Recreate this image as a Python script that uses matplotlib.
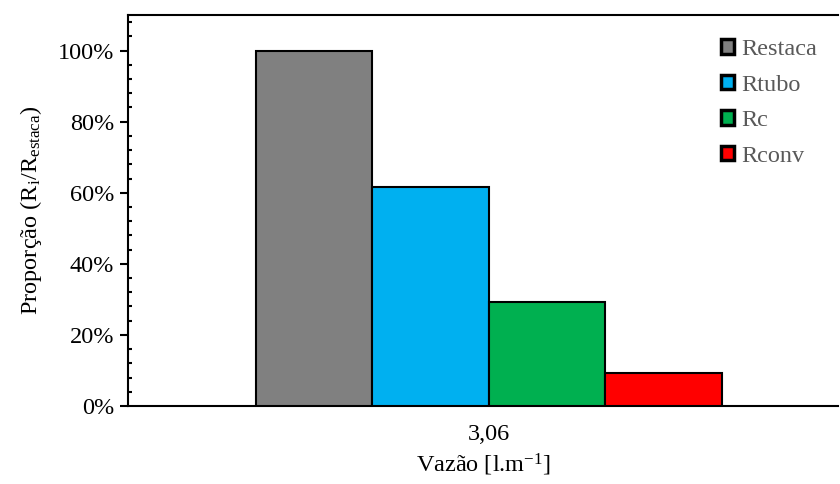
import matplotlib
matplotlib.use("Agg")
import matplotlib.pyplot as plt
from matplotlib.ticker import MultipleLocator, FuncFormatter

plt.rcParams['font.family'] = ['Liberation Serif', 'DejaVu Serif']
plt.rcParams['mathtext.fontset'] = 'custom'
plt.rcParams['mathtext.rm'] = 'Liberation Serif'
plt.rcParams['mathtext.it'] = 'Liberation Serif:italic'

category = "3,06"
series = ["Restaca", "Rtubo", "Rc", "Rconv"]
values = [1.00, 0.616, 0.292, 0.092]
colors = ["#808080", "#00B0F0", "#00B050", "#FF0000"]

FS = 17.5
fig = plt.figure(figsize=(8.4, 4.84), dpi=100)
W, H = 840, 484
ax = fig.add_axes([128 / W, 1 - 406 / H, (838 - 128) / W, (406 - 15) / H])

n = len(series)
for i, (s, v, c) in enumerate(zip(series, values, colors)):
    x = i - (n - 1) / 2
    ax.bar(x, v, width=1.0, color=c, edgecolor="black", linewidth=1.5, label=s, zorder=3)

ax.set_xlim(-3.10, 3.0)
ax.set_ylim(0, 1.10)
ax.set_xticks([0])
ax.set_xticklabels([category])
ax.tick_params(axis='x', length=0, pad=13, labelsize=FS)

ax.yaxis.set_major_locator(MultipleLocator(0.2))
ax.yaxis.set_minor_locator(MultipleLocator(0.04))
ax.yaxis.set_major_formatter(FuncFormatter(lambda v, p: f"{v*100:.0f}%"))
ax.tick_params(axis='y', which='major', direction='out', length=6, width=1.5, labelsize=FS, pad=4)
ax.tick_params(axis='y', which='minor', direction='in', length=3, width=1.5)

for sp in ['left', 'bottom', 'top']:
    ax.spines[sp].set_linewidth(1.5)
ax.spines['right'].set_visible(False)

ax.set_ylabel("Proporção (R$_\\mathregular{i}$/R$_\\mathregular{estaca}$)", fontsize=FS, labelpad=10)
ax.set_xlabel("Vazão [l.m$^\\mathregular{-1}$]", fontsize=FS, labelpad=5)

leg = ax.legend(loc='upper left', bbox_to_anchor=(721 / W, 1 - 39 / H), bbox_transform=fig.transFigure,
                frameon=False, fontsize=FS, handlelength=0.55, handleheight=0.55,
                handletextpad=0.3, labelspacing=0.6, borderpad=0, borderaxespad=0)
for t in leg.get_texts():
    t.set_color("#595959")
for h in leg.legend_handles:
    h.set_linewidth(2.5)

fig.savefig("out.png", dpi=100)
